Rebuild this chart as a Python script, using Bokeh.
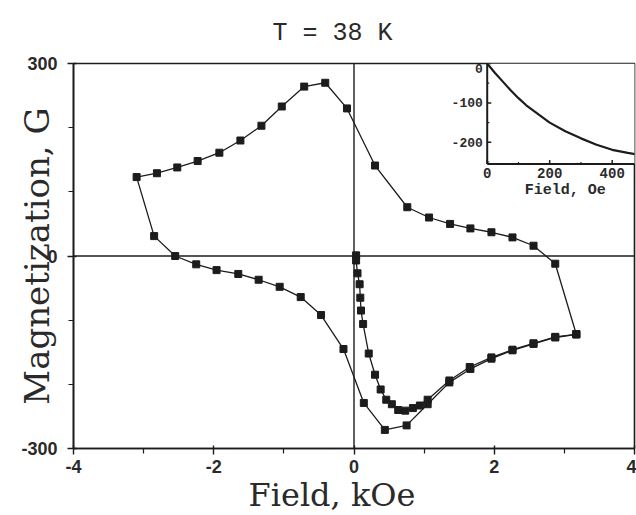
import numpy as np
from bokeh.plotting import figure
from bokeh.models import Range1d, FixedTicker, Span, Label, Title
from bokeh.embed import file_html
from bokeh.resources import INLINE

# ---------------- data ----------------
title_text = "T = 38 K"
x_label = "Field, kOe"
y_label = "Magnetization, G"

x_ticks = [-4, -2, 0, 2, 4]
x_tick_labels = ["-4", "-2", "0", "2", "4"]
x_minor = [-3, -1, 1, 3]
y_ticks = [-300, 0, 300]
y_tick_labels = ["-300", "0", "300"]
y_minor = [-200, -100, 100, 200]

# hysteresis loop (starting at positive saturation, going round)
loop_h = [3.17, 2.87, 2.56, 2.26, 1.96, 1.66, 1.37, 1.07, 0.76, 0.30, -0.10,
          -0.41, -0.71, -1.03, -1.32, -1.62, -1.92, -2.23, -2.52, -2.81, -3.10,
          -2.85, -2.55, -2.25, -1.96, -1.65, -1.36, -1.06, -0.76, -0.47, -0.15,
          0.14, 0.44, 0.75, 1.05, 1.36, 1.66, 1.96, 2.26, 2.56, 2.87, 3.17]
loop_m = [-122, -12, 16, 29, 37, 43, 50, 60, 76, 141, 230,
          270, 264, 233, 203, 180, 161, 148, 138, 129, 123,
          31, 0, -13, -22, -28, -37, -48, -64, -92, -145,
          -229, -271, -264, -231, -197, -176, -160, -147, -137, -127, -122]

# virgin curve
virgin_h = [0.03, 0.03, 0.05, 0.08, 0.09, 0.10, 0.13, 0.21, 0.30, 0.38, 0.46,
            0.54, 0.63, 0.73, 0.84, 0.94, 1.05, 1.36, 1.65, 1.96, 2.26, 2.56,
            2.87, 3.17]
virgin_m = [1, -7, -27, -44, -65, -85, -106, -152, -185, -208, -224,
            -231, -240, -241, -237, -233, -224, -194, -173, -158, -146, -136,
            -126, -122]

# inset: magnetization (G) vs field (Oe)
inset_h = [0, 25, 50, 75, 100, 125, 150, 200, 250, 300, 350, 400, 450, 480]
inset_m = [0, -24, -46, -68, -88, -106, -121, -150, -172, -190, -206, -219, -227, -231]
inset_x_ticks = [0, 200, 400]
inset_x_tick_labels = ["0", "200", "400"]
inset_x_minor = [100, 300]
inset_y_ticks = [0, -100, -200]
inset_y_tick_labels = ["0", "-100", "-200"]
inset_y_minor = [-50, -150, -250]
inset_x_label = "Field, Oe"
inset_y_bottom = -255
inset_x_right = 480

INK = "#1c1c1c"
TXT = "#2a2a2a"

# ---------------- figure ----------------
p = figure(frame_width=561, frame_height=385,
           x_range=Range1d(-4, 4), y_range=Range1d(-300, 300),
           output_backend="svg", toolbar_location=None,
           min_border_left=73, min_border_right=2,
           min_border_top=63, min_border_bottom=67)
p.background_fill_color = "white"
p.border_fill_color = "white"
p.grid.visible = False
p.outline_line_color = INK
p.outline_line_width = 1.6

# title (above), shifted left like the original
p.title.text = title_text
p.title.align = "left"
p.title.offset = 199
p.title.standoff = 32
p.title.text_font = "Liberation Mono"
p.title.text_font_size = "25px"
p.title.text_font_style = "normal"
p.title.text_color = TXT

p.xaxis.ticker = FixedTicker(ticks=x_ticks, minor_ticks=x_minor)
p.yaxis.ticker = FixedTicker(ticks=y_ticks, minor_ticks=y_minor)
p.xaxis.major_label_overrides = {t: l for t, l in zip(x_ticks, x_tick_labels)}
p.yaxis.major_label_overrides = {t: l for t, l in zip(y_ticks, y_tick_labels)}
for ax in (p.xaxis[0], p.yaxis[0]):
    ax.axis_line_color = INK
    ax.axis_line_width = 1.6
    ax.major_tick_line_color = INK
    ax.minor_tick_line_color = INK
    ax.major_tick_line_width = 1.4
    ax.minor_tick_line_width = 1.2
    ax.major_tick_in = 3
    ax.major_tick_out = 6
    ax.minor_tick_in = 0
    ax.minor_tick_out = 5
    ax.major_label_text_font = "Liberation Sans"
    ax.major_label_text_font_size = "18px"
    ax.major_label_text_font_style = "bold"
    ax.major_label_text_color = TXT
p.xaxis.major_label_standoff = 5
p.yaxis.major_label_standoff = 10

# y axis label, pulled in towards the axis
p.yaxis.axis_label = y_label
p.yaxis.axis_label_text_font = "DejaVu Serif"
p.yaxis.axis_label_text_font_size = "34px"
p.yaxis.axis_label_text_font_style = "normal"
p.yaxis.axis_label_text_color = TXT
p.yaxis.axis_label_standoff = -39

# x label as a title below the axis, shifted left like the original
p.add_layout(Title(text=x_label, align="left", offset=175, standoff=-3,
                   text_font="DejaVu Serif", text_font_size="32px",
                   text_font_style="normal", text_color=TXT), "below")

# zero lines
p.add_layout(Span(location=0, dimension="width", line_color=INK, line_width=1.6))
p.add_layout(Span(location=0, dimension="height", line_color=INK, line_width=1.4))

# loop + virgin curve
p.line(loop_h, loop_m, line_color=INK, line_width=1.3)
p.scatter(loop_h, loop_m, marker="square", size=7, fill_color=INK, line_color=INK)
p.line(virgin_h, virgin_m, line_color=INK, line_width=1.3)
p.scatter(virgin_h, virgin_m, marker="square", size=7, fill_color=INK, line_color=INK)

# ---------------- inset (mapped on extra ranges) ----------------
p.extra_x_ranges = {"ix": Range1d(-1324, 471.4)}
p.extra_y_ranges = {"iy": Range1d(-977, 0)}
IR = dict(x_range_name="ix", y_range_name="iy")

p.quad(left=[0], right=[inset_x_right], bottom=[inset_y_bottom], top=[0],
       fill_color="white", line_color=None, **IR)
p.segment(x0=[0, 0], y0=[0, inset_y_bottom], x1=[0, inset_x_right],
          y1=[inset_y_bottom, inset_y_bottom], line_color=INK, line_width=2, **IR)
p.line(inset_h, inset_m, line_color=INK, line_width=2.2, **IR)

# inset ticks (lengths in inset units ~ pixels / scale)
tx = 13.0   # ~4 px horizontally
ty = 10.0   # ~4 px vertically
p.segment(x0=[0] * len(inset_y_ticks), y0=inset_y_ticks,
          x1=[tx] * len(inset_y_ticks), y1=inset_y_ticks, line_color=INK, line_width=1.5, **IR)
p.segment(x0=[0] * len(inset_y_minor), y0=inset_y_minor,
          x1=[tx * 0.5] * len(inset_y_minor), y1=inset_y_minor, line_color=INK, line_width=1.2, **IR)
p.segment(x0=inset_x_ticks, y0=[inset_y_bottom] * len(inset_x_ticks),
          x1=inset_x_ticks, y1=[inset_y_bottom + ty] * len(inset_x_ticks),
          line_color=INK, line_width=1.5, **IR)
p.segment(x0=inset_x_minor, y0=[inset_y_bottom] * len(inset_x_minor),
          x1=inset_x_minor, y1=[inset_y_bottom + ty * 0.5] * len(inset_x_minor),
          line_color=INK, line_width=1.2, **IR)

for t, l in zip(inset_y_ticks, inset_y_tick_labels):
    p.add_layout(Label(x=-14, y=t, text=l, text_font="Liberation Mono",
                       text_font_size="13px", text_font_style="bold",
                       text_align="right", text_baseline="top" if t == 0 else "middle",
                       text_color=TXT, **IR))
for t, l in zip(inset_x_ticks, inset_x_tick_labels):
    p.add_layout(Label(x=t, y=inset_y_bottom - 24, text=l, text_font="Liberation Mono",
                       text_font_size="14px", text_font_style="bold",
                       text_align="center", text_baseline="middle",
                       text_color=TXT, **IR))
p.add_layout(Label(x=250, y=-322, text=inset_x_label, text_font="Liberation Mono",
                   text_font_size="15px", text_font_style="bold",
                   text_align="center", text_baseline="middle",
                   text_color=TXT, **IR))

open("out.html", "w").write(file_html(p, INLINE))
